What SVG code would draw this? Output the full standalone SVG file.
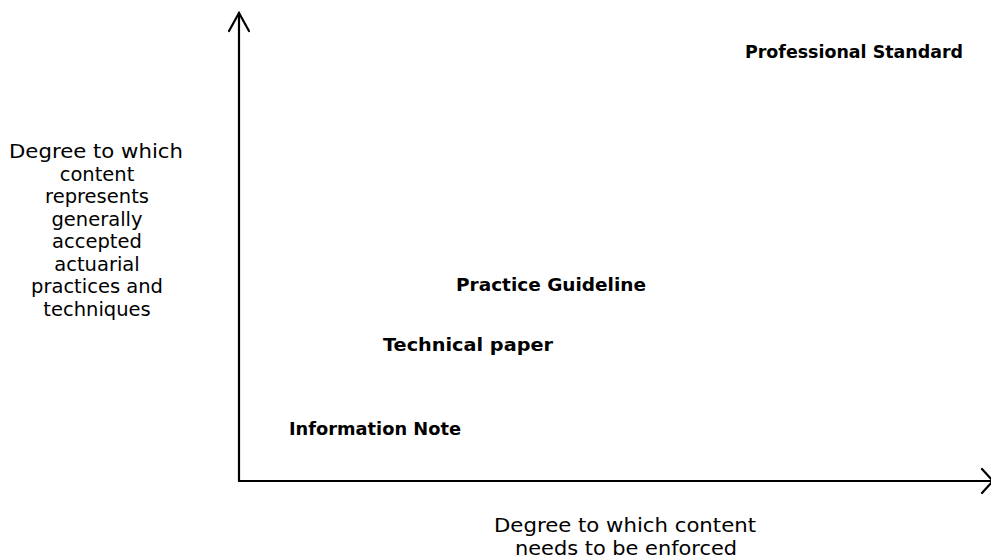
<svg xmlns="http://www.w3.org/2000/svg" width="991" height="559" viewBox="0 0 991 559">
<style>
.ax{fill:none;stroke:#000;stroke-width:2.2;stroke-linecap:round;stroke-linejoin:miter}
.lb{font-family:"DejaVu Sans","Liberation Sans",sans-serif;font-weight:bold;font-size:17.5px;fill:#000}
.ax-t{font-family:"DejaVu Sans","Liberation Sans",sans-serif;font-size:19.5px;fill:#000;text-anchor:middle}
</style>
<rect width="991" height="559" fill="#fff"/>
<g id="connectors">
<path class="ax" d="M239,481 V13"/>
<path class="ax" d="M229,31 L239,13 L249,31"/>
<path class="ax" d="M239,481 H991"/>
<path class="ax" d="M982,469 L993,481 L982,493"/>
</g>
<g id="y-axis-label">
<text class="ax-t" x="96" y="158" textLength="174" lengthAdjust="spacingAndGlyphs">Degree to which</text>
<text class="ax-t" x="97" y="180.5">content</text>
<text class="ax-t" x="97" y="203">represents</text>
<text class="ax-t" x="97" y="225.5">generally</text>
<text class="ax-t" x="97" y="248">accepted</text>
<text class="ax-t" x="97" y="270.5">actuarial</text>
<text class="ax-t" x="97" y="293">practices and</text>
<text class="ax-t" x="97" y="315.5">techniques</text>
</g>
<g id="x-axis-label">
<text class="ax-t" x="625" y="532" textLength="262" lengthAdjust="spacingAndGlyphs">Degree to which content</text>
<text class="ax-t" x="626" y="555" textLength="222" lengthAdjust="spacingAndGlyphs">needs to be enforced</text>
</g>
<g id="professional-standard"><text class="lb" x="745" y="58" textLength="218" lengthAdjust="spacingAndGlyphs">Professional Standard</text></g>
<g id="practice-guideline"><text class="lb" x="456" y="291" textLength="190" lengthAdjust="spacingAndGlyphs">Practice Guideline</text></g>
<g id="technical-paper"><text class="lb" x="383" y="351" textLength="170" lengthAdjust="spacingAndGlyphs">Technical paper</text></g>
<g id="information-note"><text class="lb" x="289" y="435" textLength="172" lengthAdjust="spacingAndGlyphs">Information Note</text></g>
</svg>
